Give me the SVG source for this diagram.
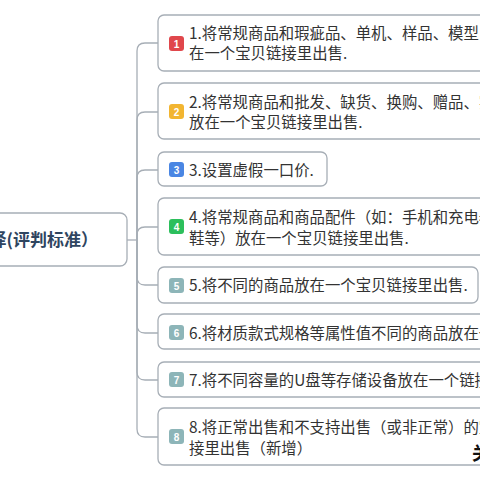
<svg xmlns="http://www.w3.org/2000/svg" width="480" height="480" viewBox="0 0 480 480">
<style>
.box{fill:#fff;stroke:#a7aeb6;stroke-width:1.3}
.conn{fill:none;stroke:#a7aeb6;stroke-width:1.3}
.t{font-family:"Noto Sans CJK SC","Microsoft YaHei",sans-serif;font-size:15.4px;fill:#333}
.bn{font-family:"Liberation Sans",Arial,sans-serif;font-size:10px;font-weight:bold;fill:#fff;text-anchor:middle}
.root{font-family:"Noto Sans CJK SC",sans-serif;font-size:17px;font-weight:bold;fill:#2f4560}
</style>
<rect width="480" height="480" fill="#fff"/>
<g id="connectors">
<path class="conn" d="M127 240H137"/>
<path class="conn" d="M137 240V51Q137 43 145 43H158"/>
<path class="conn" d="M137 240V120Q137 112 145 112H158"/>
<path class="conn" d="M137 240V178Q137 170 145 170H158"/>
<path class="conn" d="M137 240V235Q137 227 145 227H158"/>
<path class="conn" d="M137 240V277Q137 285 145 285H158"/>
<path class="conn" d="M137 240V325Q137 333 145 333H158"/>
<path class="conn" d="M137 240V372Q137 380 145 380H158"/>
<path class="conn" d="M137 240V429Q137 437 145 437H158"/>
</g>
<g id="root">
<rect class="box" x="-20" y="213" width="147" height="53" rx="7"/>
<text class="root" x="98" y="246" text-anchor="end">择(评判标准）</text>
</g>
<g id="n1">
<rect class="box" x="158" y="15" width="340" height="56" rx="6"/>
<rect x="169" y="36" width="15" height="15" rx="3" fill="#e0474c"/>
<text class="bn" x="176.5" y="47.5">1</text>
<text class="t" x="189" y="38.5">1.将常规商品和瑕疵品、单机、样品、模型</text>
<text class="t" x="189" y="58.5">在一个宝贝链接里出售.</text>
</g>
<g id="n2">
<rect class="box" x="158" y="83" width="340" height="56" rx="6"/>
<rect x="169" y="104" width="15" height="15" rx="3" fill="#f2b531"/>
<text class="bn" x="176.5" y="115.5">2</text>
<text class="t" x="189" y="107.5">2.将常规商品和批发、缺货、换购、赠品、实</text>
<text class="t" x="189" y="127.5">放在一个宝贝链接里出售.</text>
</g>
<g id="n3">
<rect class="box" x="158" y="152" width="169" height="34" rx="6"/>
<rect x="169" y="162" width="15" height="15" rx="3" fill="#4a86e3"/>
<text class="bn" x="176.5" y="173.5">3</text>
<text class="t" x="189" y="175.5">3.设置虚假一口价.</text>
</g>
<g id="n4">
<rect class="box" x="158" y="198" width="340" height="57" rx="6"/>
<rect x="169" y="219" width="15" height="15" rx="3" fill="#2cbf5c"/>
<text class="bn" x="176.5" y="230.5">4</text>
<text class="t" x="189" y="222.5">4.将常规商品和商品配件（如：手机和充电器</text>
<text class="t" x="189" y="243.5">鞋等）放在一个宝贝链接里出售.</text>
</g>
<g id="n5">
<rect class="box" x="158" y="267" width="320" height="36" rx="6"/>
<rect x="169" y="278" width="15" height="15" rx="3" fill="#8db5b8"/>
<text class="bn" x="176.5" y="289.5">5</text>
<text class="t" x="189" y="290.5">5.将不同的商品放在一个宝贝链接里出售.</text>
</g>
<g id="n6">
<rect class="box" x="158" y="314" width="340" height="35" rx="6"/>
<rect x="169" y="325" width="15" height="15" rx="3" fill="#8db5b8"/>
<text class="bn" x="176.5" y="336.5">6</text>
<text class="t" x="189" y="338.5">6.将材质款式规格等属性值不同的商品放在一</text>
</g>
<g id="n7">
<rect class="box" x="158" y="362" width="340" height="35" rx="6"/>
<rect x="169" y="372" width="15" height="15" rx="3" fill="#8db5b8"/>
<text class="bn" x="176.5" y="383.5">7</text>
<text class="t" x="189" y="385.5">7.将不同容量的U盘等存储设备放在一个链接</text>
</g>
<g id="n8">
<rect class="box" x="158" y="408" width="340" height="57" rx="6"/>
<rect x="169" y="429" width="15" height="15" rx="3" fill="#8db5b8"/>
<text class="bn" x="176.5" y="440.5">8</text>
<text class="t" x="189" y="432.5">8.将正常出售和不支持出售（或非正常）的宝</text>
<text class="t" x="189" y="453.5">接里出售（新增）</text>
</g>
<text x="472" y="460" font-family="Noto Sans CJK SC,sans-serif" font-size="18" font-weight="bold" fill="#111">关</text>
</svg>
